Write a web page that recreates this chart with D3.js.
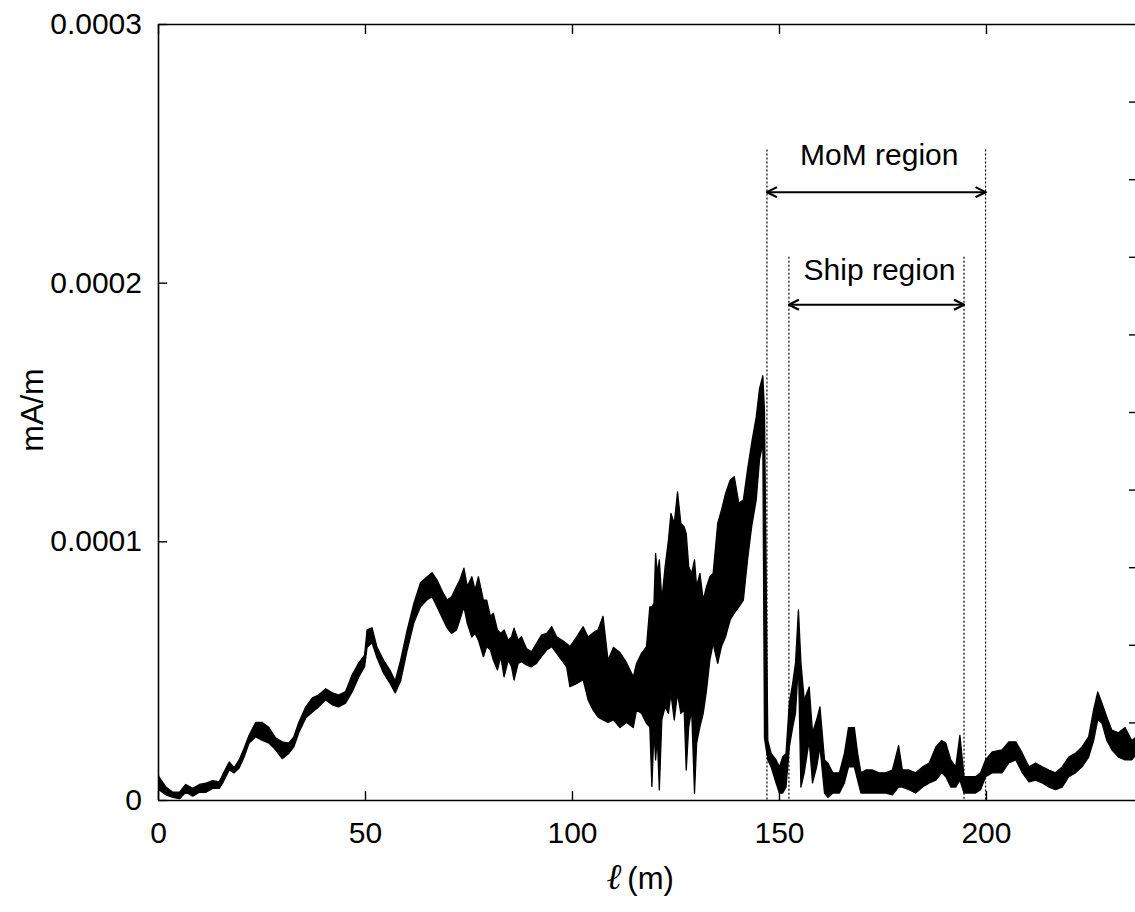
<!DOCTYPE html>
<html><head><meta charset="utf-8">
<script src="https://cdn.jsdelivr.net/npm/d3@7"></script>
<style>
body{margin:0;background:#fff}
svg{display:block}
text{font-family:"Liberation Sans",Arial,sans-serif;fill:#000}
</style>
</head><body>
<svg id="chart" width="1135" height="912"></svg>
<script>
// Signal values; stored in units of 1e-6 mA/m.
const UNIT = 1e-6;
// position along the line (m)
const ell = [
  0, 0.2, 1.9, 3.6, 5.2, 6.7, 8.4, 10, 11.6, 13.2,
  14.8, 15.6, 17.2, 18.4, 19.6, 20.8, 22, 23.6, 25.2, 26.8,
  28.4, 30, 31.6, 32.8, 34, 35.7, 37.3, 38.8, 40.5, 42.1,
  43.6, 45.3, 46.9, 48.5, 49.9, 50.5, 51.7, 52.9, 54.5, 56.1,
  57.3, 58.6, 60.2, 61.8, 63.4, 65, 66.2, 67.4, 68.9, 69.9,
  70.9, 72.1, 72.9, 73.9, 74.7, 75.8, 76.6, 77.4, 78.6, 79.4,
  80.3, 81, 82, 82.8, 83.6, 84.6, 85.4, 86, 87, 87.8,
  89, 90.2, 91.4, 92.6, 93.9, 95.1, 96.3, 97.5, 98.7, 99.5,
  101.1, 102.7, 103.9, 105.1, 106.3, 107.5, 108.7, 110, 111.6, 113.2,
  114.8, 115.6, 116.8, 118, 118.8, 119.3, 119.8, 120.2, 120.6, 121.1,
  121.7, 122.5, 123.3, 123.9, 124.7, 125.5, 126.3, 127.1, 127.6, 128.2,
  128.9, 129.6, 130.1, 130.9, 131.7, 132.5, 133.3, 134.1, 135.2, 136.1,
  137.1, 138.2, 139.2, 140.3, 141.4, 142.4, 143.4, 144.5, 145.3, 146.1,
  146.5, 147.3, 148.1, 149.3, 150.1, 150.9, 151.7, 152.5, 153.3, 154,
  154.7, 155.3, 156.1, 157.3, 158.1, 159.1, 159.9, 161, 161.8, 163,
  164.6, 165.8, 166.8, 168.2, 169, 169.8, 171, 172.6, 174.2, 175.8,
  177.4, 178.9, 179.8, 181.4, 183, 184.7, 186.3, 187.9, 189.3, 190.3,
  191.5, 192.7, 193.7, 194.7, 195.9, 197.5, 198.7, 199.9, 201.5, 203.9,
  205.5, 207.2, 208.8, 210.4, 212, 213.6, 215.2, 216.8, 218.4, 220,
  221.6, 223.2, 224.8, 226, 227, 228, 229.2, 230.4, 232, 233.6,
  235.2, 236];
// upper envelope of the noisy trace (1e-6 mA/m)
const hi = [
  10, 9, 5, 3, 3, 6, 4.5, 6, 6.5, 7.5,
  7, 9.7, 14.7, 12.5, 15.5, 20, 25, 30, 30, 28,
  24, 22.5, 22, 24.4, 30, 36, 39.5, 40.6, 43, 41.4,
  40.6, 41.9, 48.4, 53, 56, 65.8, 66.6, 59, 54, 50,
  46, 54, 65.8, 76, 84, 86.3, 87.9, 85, 79.9, 77.3,
  78.6, 82.5, 85, 89.6, 82.5, 86.3, 81.2, 86.3, 77.3, 77.3,
  70.9, 72.2, 65.7, 64.4, 65.7, 61.8, 63.1, 66.4, 61.8, 63.1,
  58.6, 57.3, 60.5, 63.7, 64.4, 67, 63.1, 61.8, 60.5, 59.3,
  63, 67, 63, 64.6, 65.8, 71, 54, 59, 57, 53,
  47.6, 52.8, 56.7, 59.3, 74.7, 74.7, 76, 95.3, 87.6, 92.8,
  77.3, 90.2, 100.5, 110.8, 106.9, 119.1, 106.9, 105.6, 103, 90.2,
  87.6, 92.8, 82.5, 87.6, 77.3, 82.5, 86.3, 87.6, 106.9, 112,
  118.5, 123.6, 125, 114.7, 116, 127.6, 138, 148, 159, 164,
  150, 23, 18, 15.5, 12.8, 16.6, 18, 37.5, 45, 53,
  73.5, 53, 38.7, 43.7, 26, 31, 36, 15.5, 14.3, 10.5,
  10.5, 18, 28, 28, 18, 10.5, 11.6, 11.6, 10.5, 10.5,
  11.6, 21, 11.6, 11.6, 10.5, 12.8, 14.3, 20.5, 23, 22,
  15.5, 12.8, 25, 9, 9, 9, 10.5, 15.5, 18.6, 19.4,
  22.5, 22.5, 18, 12.8, 14.3, 12.8, 11.6, 10.5, 12.8, 16.6,
  18, 20.5, 24.4, 34.8, 41.8, 37.5, 32, 27, 26, 28,
  23, 24];
// lower envelope of the noisy trace (1e-6 mA/m)
const lo = [
  3, 4, 2, 1, 0.5, 3, 1.5, 3, 3, 4.5,
  4.5, 6.5, 11.6, 10.5, 12.4, 16.6, 22, 24.4, 23, 22,
  19.4, 16, 18, 20.5, 26, 31.7, 34, 36, 38.7, 36.8,
  36, 37.4, 41.8, 47.6, 51.5, 59, 60.8, 55, 49, 45,
  41.4, 46, 58, 68.5, 74.7, 77.4, 78.6, 74.7, 69.6, 66.4,
  64.4, 65.7, 69.6, 74.7, 68.3, 63, 64.4, 61.8, 55.4, 59.3,
  58, 54.1, 50.3, 55.4, 47.6, 54.1, 51.5, 46.4, 52.8, 53.5,
  52.2, 51.5, 52.8, 55.4, 58, 59.3, 56.7, 54.1, 51.5, 43.8,
  45, 46.5, 38.7, 34.8, 32, 31, 30, 31, 28, 30,
  28, 34.8, 33.5, 29.6, 28.3, 5.2, 27, 15.5, 24.5, 3.9,
  31, 36.1, 33.5, 41.2, 31, 41.2, 33.5, 34.8, 11.6, 28.3,
  34.8, 2.6, 21.9, 28.3, 33.5, 42.5, 54.1, 60.5, 52.8, 59.3,
  63.1, 69.6, 72.2, 74.7, 77.3, 92.8, 105.7, 116, 131.6, 138,
  24, 15.5, 12.8, 6.6, 2.7, 2.7, 5, 20.5, 28, 33.7,
  53, 5, 10.5, 23, 6.6, 12.8, 20.5, 2.7, 1, 2.7,
  2.7, 6.6, 12.8, 12.8, 7.7, 2.7, 2.7, 2.7, 2.7, 2.7,
  2, 5, 5, 4, 2.7, 5, 6.6, 7.7, 10.5, 9,
  5, 5, 7.7, 2.7, 2.7, 2.7, 4, 9, 10.5, 10.5,
  14.3, 15.5, 10.5, 7, 7.7, 6.6, 5, 4, 5, 9,
  10.5, 12.8, 16.6, 23, 31, 29.8, 23, 19.4, 16.6, 15.5,
  15.5, 17];

const xTicks = [0, 50, 100, 150, 200];
const yTicks = [0, 0.0001, 0.0002, 0.0003];
const yTickLabels = ["0", "0.0001", "0.0002", "0.0003"];
const rightTicks = [1, 2, 3, 4, 5, 6, 7, 8, 9];
const momRegion = [147.1, 199.9];
const shipRegion = [152.4, 194.7];
const momLabel = "MoM region";
const shipLabel = "Ship region";

const svg = d3.select("#chart");
const L = 158, R = 1135, T = 24, B = 800;
const x = d3.scaleLinear().domain([0, 236]).range([L, R]);
const y = d3.scaleLinear().domain([0, 0.0003]).range([B, T]);
const yR = d3.scaleLinear().domain([0, 10]).range([B, T]);

svg.append("defs").append("clipPath").attr("id", "plot")
  .append("rect").attr("x", L).attr("y", T).attr("width", R - L).attr("height", B - T);

// trace (min/max envelope of the dense signal)
const n = Math.min(ell.length, hi.length, lo.length);
const data = d3.range(n).map(i => ({ l: ell[i], hi: hi[i] * UNIT, lo: lo[i] * UNIT }));
const area = d3.area().x(d => x(d.l)).y0(d => y(d.lo)).y1(d => y(d.hi));
svg.append("path").datum(data).attr("clip-path", "url(#plot)")
  .attr("d", area).attr("fill", "#000").attr("stroke", "#000")
  .attr("stroke-width", 1.3).attr("stroke-linejoin", "round");

// region markers
const marker = svg.select("defs").append("marker")
  .attr("id", "arr").attr("viewBox", "0 0 12 12").attr("refX", 11).attr("refY", 6)
  .attr("markerWidth", 12).attr("markerHeight", 12).attr("markerUnits", "userSpaceOnUse")
  .attr("orient", "auto-start-reverse");
marker.append("path").attr("d", "M1,1 L11,6 L1,11").attr("fill", "none")
  .attr("stroke", "#000").attr("stroke-width", 2.2);

function region(r, topV, arrowV, textV, label) {
  r.forEach(v => {
    svg.append("line").attr("x1", x(v)).attr("x2", x(v)).attr("y1", y(topV)).attr("y2", y(0))
      .attr("stroke", "#000").attr("stroke-width", 1.2).attr("stroke-dasharray", "2,2");
  });
  svg.append("line").attr("x1", x(r[0])).attr("x2", x(r[1])).attr("y1", y(arrowV)).attr("y2", y(arrowV))
    .attr("stroke", "#000").attr("stroke-width", 2)
    .attr("marker-start", "url(#arr)").attr("marker-end", "url(#arr)");
  svg.append("text").attr("x", x((r[0] + r[1]) / 2) + 3).attr("y", y(textV))
    .attr("text-anchor", "middle").style("font-size", "30px").text(label);
}
region(momRegion, 0.0002515, 0.0002350, 0.0002455, momLabel);
region(shipRegion, 0.0002100, 0.0001915, 0.0002010, shipLabel);

// axes
const axStyle = g => {
  g.selectAll(".domain").attr("stroke", "#000").attr("stroke-width", 1.6);
  g.selectAll(".tick line").attr("stroke", "#000").attr("stroke-width", 1.4);
  g.selectAll("text").style("font-size", "30px").attr("font-family", null);
};
svg.append("g").attr("transform", `translate(${L},0)`)
  .call(d3.axisLeft(y).tickValues(yTicks).tickFormat((d, i) => yTickLabels[i])
    .tickSize(-9).tickSizeOuter(0).tickPadding(16))
  .call(axStyle);
svg.append("g").attr("transform", `translate(0,${B})`)
  .call(d3.axisBottom(x).tickValues(xTicks).tickFormat(d3.format("d"))
    .tickSize(-9).tickSizeOuter(0).tickPadding(22))
  .call(axStyle);
svg.append("g").attr("transform", `translate(0,${T})`)
  .call(d3.axisTop(x).tickValues(xTicks).tickFormat("").tickSize(-10).tickSizeOuter(0))
  .call(axStyle);
svg.append("g").attr("transform", `translate(${R},0)`)
  .call(d3.axisRight(yR).tickValues(rightTicks).tickFormat("").tickSize(-6).tickSizeOuter(0))
  .call(axStyle)
  .call(g => g.select(".domain").remove());

// axis titles
svg.append("text").attr("transform", `translate(43,410) rotate(-90)`)
  .attr("text-anchor", "middle").style("font-size", "32px").text("mA/m");
const xl = svg.append("text").attr("x", 640).attr("y", 889).attr("text-anchor", "middle")
  .style("font-size", "31px");
xl.append("tspan").style("font-family", "'DejaVu Serif',serif").style("font-style", "italic")
  .style("font-size", "36px").text("ℓ");
xl.append("tspan").text("\u2009(m)");
</script>
</body></html>
